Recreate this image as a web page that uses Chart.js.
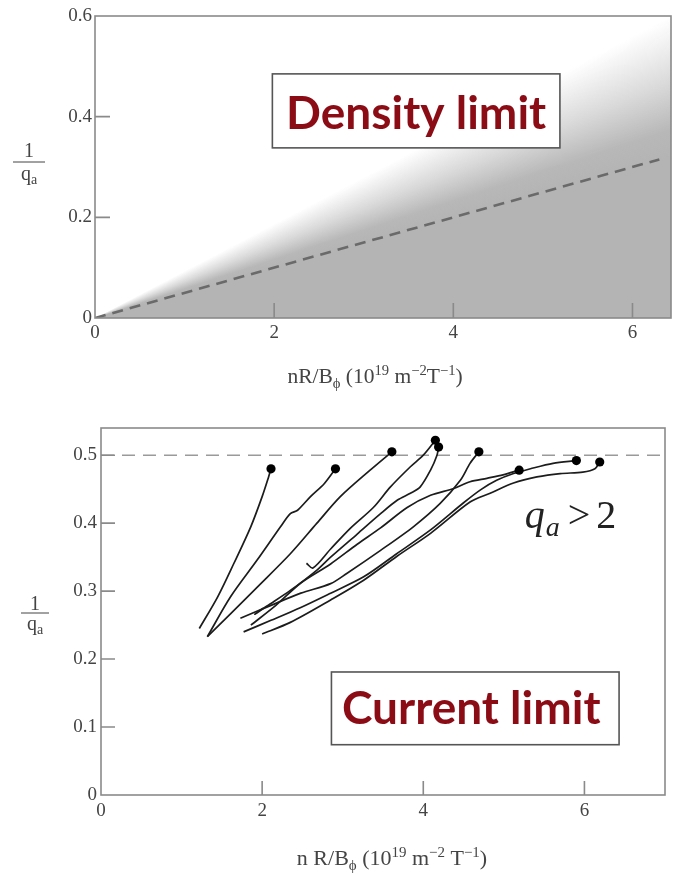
<!DOCTYPE html>
<html>
<head>
<meta charset="utf-8">
<script src="https://cdn.jsdelivr.net/npm/chart.js@4.4.1/dist/chart.umd.min.js"></script>
<style>
  html, body { margin: 0; padding: 0; background: #fff; }
  #wrap { position: relative; width: 680px; height: 875px; }
  #wrap canvas { position: absolute; left: 0; }
  #densityChart { top: 0; }
  #currentChart { top: 400px; }
</style>
</head>
<body>
<div id="wrap">
  <canvas id="densityChart" width="680" height="400"></canvas>
  <canvas id="currentChart" width="680" height="475"></canvas>
</div>
<script>
/* ── Density limit panel ── */
const densXTicks = [0, 2, 4, 6];
const densYTicks = [0, 0.2, 0.4, 0.6];
const limitLineX = [0, 6.3];
const limitLineY = [0, 0.315];
// shaded wedge: solid under the limit line, fading out towards this edge
const shadeEdgeX = [0, 6.43];
const shadeEdgeY = [0, 0.6];

/* ── Current limit panel ── */
const currXTicks = [0, 2, 4, 6];
const currYTicks = [0, 0.1, 0.2, 0.3, 0.4, 0.5];
const qLimitX = [0, 7];
const qLimitY = [0.5, 0.5];

// discharge trajectories, last point = disruption
const shot1X = [1.22, 1.45, 1.65, 1.86, 2.00, 2.08, 2.11];
const shot1Y = [0.245, 0.292, 0.341, 0.395, 0.439, 0.468, 0.480];
const shot2X = [1.32, 1.61, 1.94, 2.23, 2.35, 2.44, 2.60, 2.77, 2.91];
const shot2Y = [0.233, 0.292, 0.346, 0.395, 0.414, 0.419, 0.439, 0.458, 0.480];
const shot3X = [1.32, 1.61, 1.94, 2.35, 2.68, 2.97, 3.34, 3.61];
const shot3Y = [0.233, 0.267, 0.306, 0.355, 0.400, 0.439, 0.478, 0.505];
const shot4X = [2.55, 2.63, 2.85, 3.10, 3.38, 3.59, 3.84, 4.00, 4.15];
const shot4Y = [0.341, 0.334, 0.362, 0.393, 0.423, 0.453, 0.483, 0.500, 0.522];
const shot5X = [2.01, 1.91, 2.06, 2.35, 2.68, 2.85, 3.18, 3.47, 3.68, 3.84, 3.96, 4.09, 4.17, 4.19];
const shot5Y = [0.275, 0.266, 0.278, 0.301, 0.331, 0.350, 0.384, 0.414, 0.434, 0.444, 0.453, 0.478, 0.500, 0.512];
const shot6X = [1.73, 2.11, 2.48, 2.85, 3.05, 3.47, 3.88, 4.21, 4.46, 4.58, 4.69];
const shot6Y = [0.260, 0.279, 0.297, 0.311, 0.326, 0.360, 0.395, 0.429, 0.463, 0.488, 0.505];
const shot7X = [1.86, 2.17, 2.48, 2.85, 3.18, 3.47, 3.80, 4.09, 4.38, 4.58, 4.79, 4.99, 5.19];
const shot7Y = [0.250, 0.279, 0.312, 0.340, 0.369, 0.393, 0.423, 0.441, 0.451, 0.461, 0.466, 0.471, 0.478];
const shot8X = [1.77, 2.11, 2.48, 2.85, 3.26, 3.67, 4.09, 4.50, 4.71, 4.91, 5.12, 5.33, 5.61, 5.90];
const shot8Y = [0.240, 0.257, 0.276, 0.297, 0.321, 0.355, 0.390, 0.430, 0.449, 0.463, 0.473, 0.480, 0.488, 0.492];
const shot9X = [2.00, 2.35, 2.85, 3.26, 3.67, 4.09, 4.58, 4.83, 5.12, 5.41, 5.70, 5.98, 6.13, 6.19];
const shot9Y = [0.237, 0.254, 0.287, 0.316, 0.351, 0.385, 0.431, 0.444, 0.459, 0.468, 0.473, 0.475, 0.480, 0.490];

const shots = [
  [shot1X, shot1Y], [shot2X, shot2Y], [shot3X, shot3Y],
  [shot4X, shot4Y], [shot5X, shot5Y], [shot6X, shot6Y],
  [shot7X, shot7Y], [shot8X, shot8Y], [shot9X, shot9Y],
];

const SERIF = "'Liberation Serif', 'DejaVu Serif', serif";
const SANS = "Lato, 'Open Sans', sans-serif";
const AXIS = '#8a8a8a';
const TEXT = '#444';
const SHADE = [180, 180, 180];

const pts = (xs, ys) => xs.map((x, i) => ({ x, y: ys[i] }));

// draws a row of text pieces (sub/superscripts, mixed styles)
function drawRuns(ctx, runs, cx, baseY, align = 'center') {
  const fontOf = r => `${r.style || ''} ${r.size}px ${r.family || SERIF}`;
  let total = 0;
  runs.forEach(r => { ctx.font = fontOf(r); total += ctx.measureText(r.t).width + (r.gap || 0); });
  let x = align === 'center' ? cx - total / 2 : cx;
  ctx.textAlign = 'left';
  ctx.textBaseline = 'alphabetic';
  runs.forEach(r => {
    ctx.font = fontOf(r);
    x += r.gap || 0;
    ctx.fillText(r.t, x, baseY + (r.dy || 0));
    x += ctx.measureText(r.t).width;
  });
}

// conic shade around the data origin: solid below the limit line, fading above it
function wedgeShade(chart) {
  const { ctx, chartArea, scales } = chart;
  if (!chartArea || !ctx.createConicGradient) return `rgb(${SHADE})`;
  const { x, y } = scales;
  const ox = x.getPixelForValue(0), oy = y.getPixelForValue(0);
  const ang = (vx, vy) => Math.atan2(y.getPixelForValue(vy) - oy, x.getPixelForValue(vx) - ox);
  const start = -Math.PI / 2;
  const tFade = (ang(shadeEdgeX[1], shadeEdgeY[1]) - start) / (2 * Math.PI);
  const tSolid = (ang(limitLineX[1], limitLineY[1]) - start) / (2 * Math.PI);
  const at = k => tFade + (tSolid - tFade) * k;
  const g = ctx.createConicGradient(start, ox, oy);
  g.addColorStop(0, `rgba(${SHADE},0)`);
  g.addColorStop(tFade, `rgba(${SHADE},0)`);
  g.addColorStop(at(0.45), `rgba(${SHADE},0.5)`);
  g.addColorStop(at(0.8), `rgba(${SHADE},0.95)`);
  g.addColorStop(tSolid, `rgba(${SHADE},1)`);
  g.addColorStop(1, `rgba(${SHADE},1)`);
  return g;
}

// box frame plus inward tick marks
const framePlugin = {
  id: 'frame',
  afterDatasetsDraw(chart, args, o) {
    const { ctx, chartArea: a, scales: { x, y } } = chart;
    ctx.save();
    ctx.strokeStyle = AXIS;
    ctx.lineWidth = 1.6;
    ctx.strokeRect(a.left, a.top, a.width, a.height);
    ctx.beginPath();
    x.ticks.forEach(t => {
      const px = x.getPixelForValue(t.value);
      if (px <= a.left + 2 || px >= a.right - 2) return;
      ctx.moveTo(px, a.bottom);
      ctx.lineTo(px, a.bottom - o.len);
    });
    y.ticks.forEach(t => {
      const py = y.getPixelForValue(t.value);
      if (py <= a.top + 2 || py >= a.bottom - 2) return;
      ctx.moveTo(a.left, py);
      ctx.lineTo(a.left + o.len, py);
    });
    ctx.stroke();
    ctx.restore();
  }
};

// label box, free text and axis titles
const panelPlugin = {
  id: 'panel',
  afterDatasetsDraw(chart, args, o) {
    const { ctx, scales: { x, y } } = chart;
    ctx.save();
    const b = o.box;
    const x0 = x.getPixelForValue(b.x0), x1 = x.getPixelForValue(b.x1);
    const y0 = y.getPixelForValue(b.y0), y1 = y.getPixelForValue(b.y1);
    ctx.fillStyle = '#fff';
    ctx.fillRect(x0, y0, x1 - x0, y1 - y0);
    ctx.strokeStyle = '#555';
    ctx.lineWidth = 1.6;
    ctx.strokeRect(x0, y0, x1 - x0, y1 - y0);
    ctx.fillStyle = '#8c0c16';
    ctx.font = `bold ${b.size}px ${SANS}`;
    ctx.textAlign = 'center';
    ctx.textBaseline = 'alphabetic';
    ctx.fillText(b.text, (x0 + x1) / 2 + (b.dx || 0), y1 - b.pad);
    if (o.note) {
      ctx.fillStyle = '#222';
      drawRuns(ctx, o.note.runs, x.getPixelForValue(o.note.x), y.getPixelForValue(o.note.y), 'left');
    }
    ctx.restore();
  },
  afterDraw(chart, args, o) {
    const { ctx, chartArea: a } = chart;
    ctx.save();
    ctx.fillStyle = TEXT;
    // x title
    drawRuns(ctx, o.xTitle.runs, (a.left + a.right) / 2 + o.xTitle.dx, o.xTitle.y);
    // y title as the fraction 1 / q_a
    const f = o.yTitle;
    ctx.font = `${f.size}px ${SERIF}`;
    ctx.textAlign = 'center';
    ctx.fillText('1', f.cx, f.bar - f.gapTop);
    ctx.strokeStyle = TEXT;
    ctx.lineWidth = 1;
    ctx.beginPath();
    ctx.moveTo(f.cx - f.half, f.bar);
    ctx.lineTo(f.cx + f.half, f.bar);
    ctx.stroke();
    drawRuns(ctx, [
      { t: 'q', size: f.size },
      { t: 'a', size: f.size * 0.7, dy: f.size * 0.2 },
    ], f.cx, f.bar + f.gapBottom);
    ctx.restore();
  }
};

function axis(min, max, tickVals, fmt, fit, isX, pad) {
  return {
    type: 'linear',
    min, max,
    border: { display: false },
    grid: { display: false, drawTicks: false },
    ticks: {
      autoSkip: false, maxRotation: 0, padding: pad,
      color: TEXT,
      font: { family: SERIF, size: 19 },
      callback: fmt,
    },
    afterBuildTicks: s => { s.ticks = tickVals.map(v => ({ value: v })); },
    afterFit: s => { if (isX) s.height = fit; else s.width = fit; },
  };
}

const fmtX = v => String(v);
const fmtY = v => (v === 0 ? '0' : v.toFixed(1));

const xTitleRuns = (lead, gapT, size) => {
  const s = size * 0.68, up = -size * 0.38;
  return [
    { t: lead, size },
    { t: 'ϕ', size: s, dy: size * 0.22 },
    { t: ' (10', size },
    { t: '19', size: s, dy: up },
    { t: ' m', size },
    { t: '−2', size: s, dy: up },
    { t: gapT + 'T', size },
    { t: '−1', size: s, dy: up },
    { t: ')', size },
  ];
};

const common = {
  type: 'line',
  plugins: [framePlugin, panelPlugin],
};

new Chart(document.getElementById('densityChart'), {
  ...common,
  data: {
    datasets: [
      {
        data: pts(limitLineX, limitLineY),
        order: 0,
        borderColor: '#6a6a6a',
        borderWidth: 2.6,
        borderDash: [11, 7],
        pointRadius: 0,
        fill: false,
      },
      {
        data: pts(shadeEdgeX, shadeEdgeY),
        order: 1,
        borderWidth: 0,
        pointRadius: 0,
        fill: 'origin',
        backgroundColor: c => wedgeShade(c.chart),
      },
    ],
  },
  options: {
    responsive: false,
    animation: false,
    devicePixelRatio: 1,
    layout: { padding: { top: 16, right: 9, left: 0, bottom: 0 } },
    plugins: {
      legend: { display: false },
      tooltip: { enabled: false },
      frame: { len: 15 },
      panel: {
        box: { x0: 1.98, x1: 5.19, y0: 0.485, y1: 0.338, text: 'Density limit', size: 46, pad: 19 },
        xTitle: { runs: xTitleRuns('nR/B', '', 21.5), dx: -8, y: 383 },
        yTitle: { cx: 29, bar: 162, half: 16, size: 20, gapTop: 5, gapBottom: 18 },
      },
    },
    scales: {
      x: axis(0, 6.43, densXTicks, fmtX, 82, true, 4),
      y: axis(0, 0.6, densYTicks, fmtY, 95, false, 3),
    },
  },
});

const shotSets = shots.map(([xs, ys]) => ({
  data: pts(xs, ys),
  order: 0,
  borderColor: '#1c1c1c',
  borderWidth: 1.7,
  tension: 0.3,
  fill: false,
  pointRadius: c => (c.dataIndex === xs.length - 1 ? 4.6 : 0),
  pointBackgroundColor: '#000',
  pointBorderWidth: 0,
}));

new Chart(document.getElementById('currentChart'), {
  ...common,
  data: {
    datasets: [
      {
        data: pts(qLimitX, qLimitY),
        order: 1,
        borderColor: '#9a9a9a',
        borderWidth: 1.6,
        borderDash: [13, 8],
        pointRadius: 0,
        fill: false,
      },
      ...shotSets,
    ],
  },
  options: {
    responsive: false,
    animation: false,
    devicePixelRatio: 1,
    layout: { padding: { top: 28, right: 15, left: 0, bottom: 0 } },
    plugins: {
      legend: { display: false },
      tooltip: { enabled: false },
      frame: { len: 14 },
      panel: {
        box: { x0: 2.86, x1: 6.43, y0: 0.181, y1: 0.074, text: 'Current limit', size: 46, pad: 21, dx: -4 },
        note: {
          x: 5.26, y: 0.393,
          runs: [
            { t: 'q', size: 40, style: 'italic' },
            { t: 'a', size: 28, style: 'italic', dy: 8, gap: 1 },
            { t: '>', size: 40, gap: 8 },
            { t: '2', size: 40, gap: 6 },
          ],
        },
        xTitle: { runs: xTitleRuns('n R/B', ' ', 22), dx: 9, y: 465 },
        yTitle: { cx: 35, bar: 213, half: 14, size: 20, gapTop: 3, gapBottom: 17 },
      },
    },
    scales: {
      x: axis(0, 7, currXTicks, fmtX, 80, true, 5),
      y: axis(0, 0.54, currYTicks, fmtY, 101, false, 4),
    },
  },
});
</script>
</body>
</html>
